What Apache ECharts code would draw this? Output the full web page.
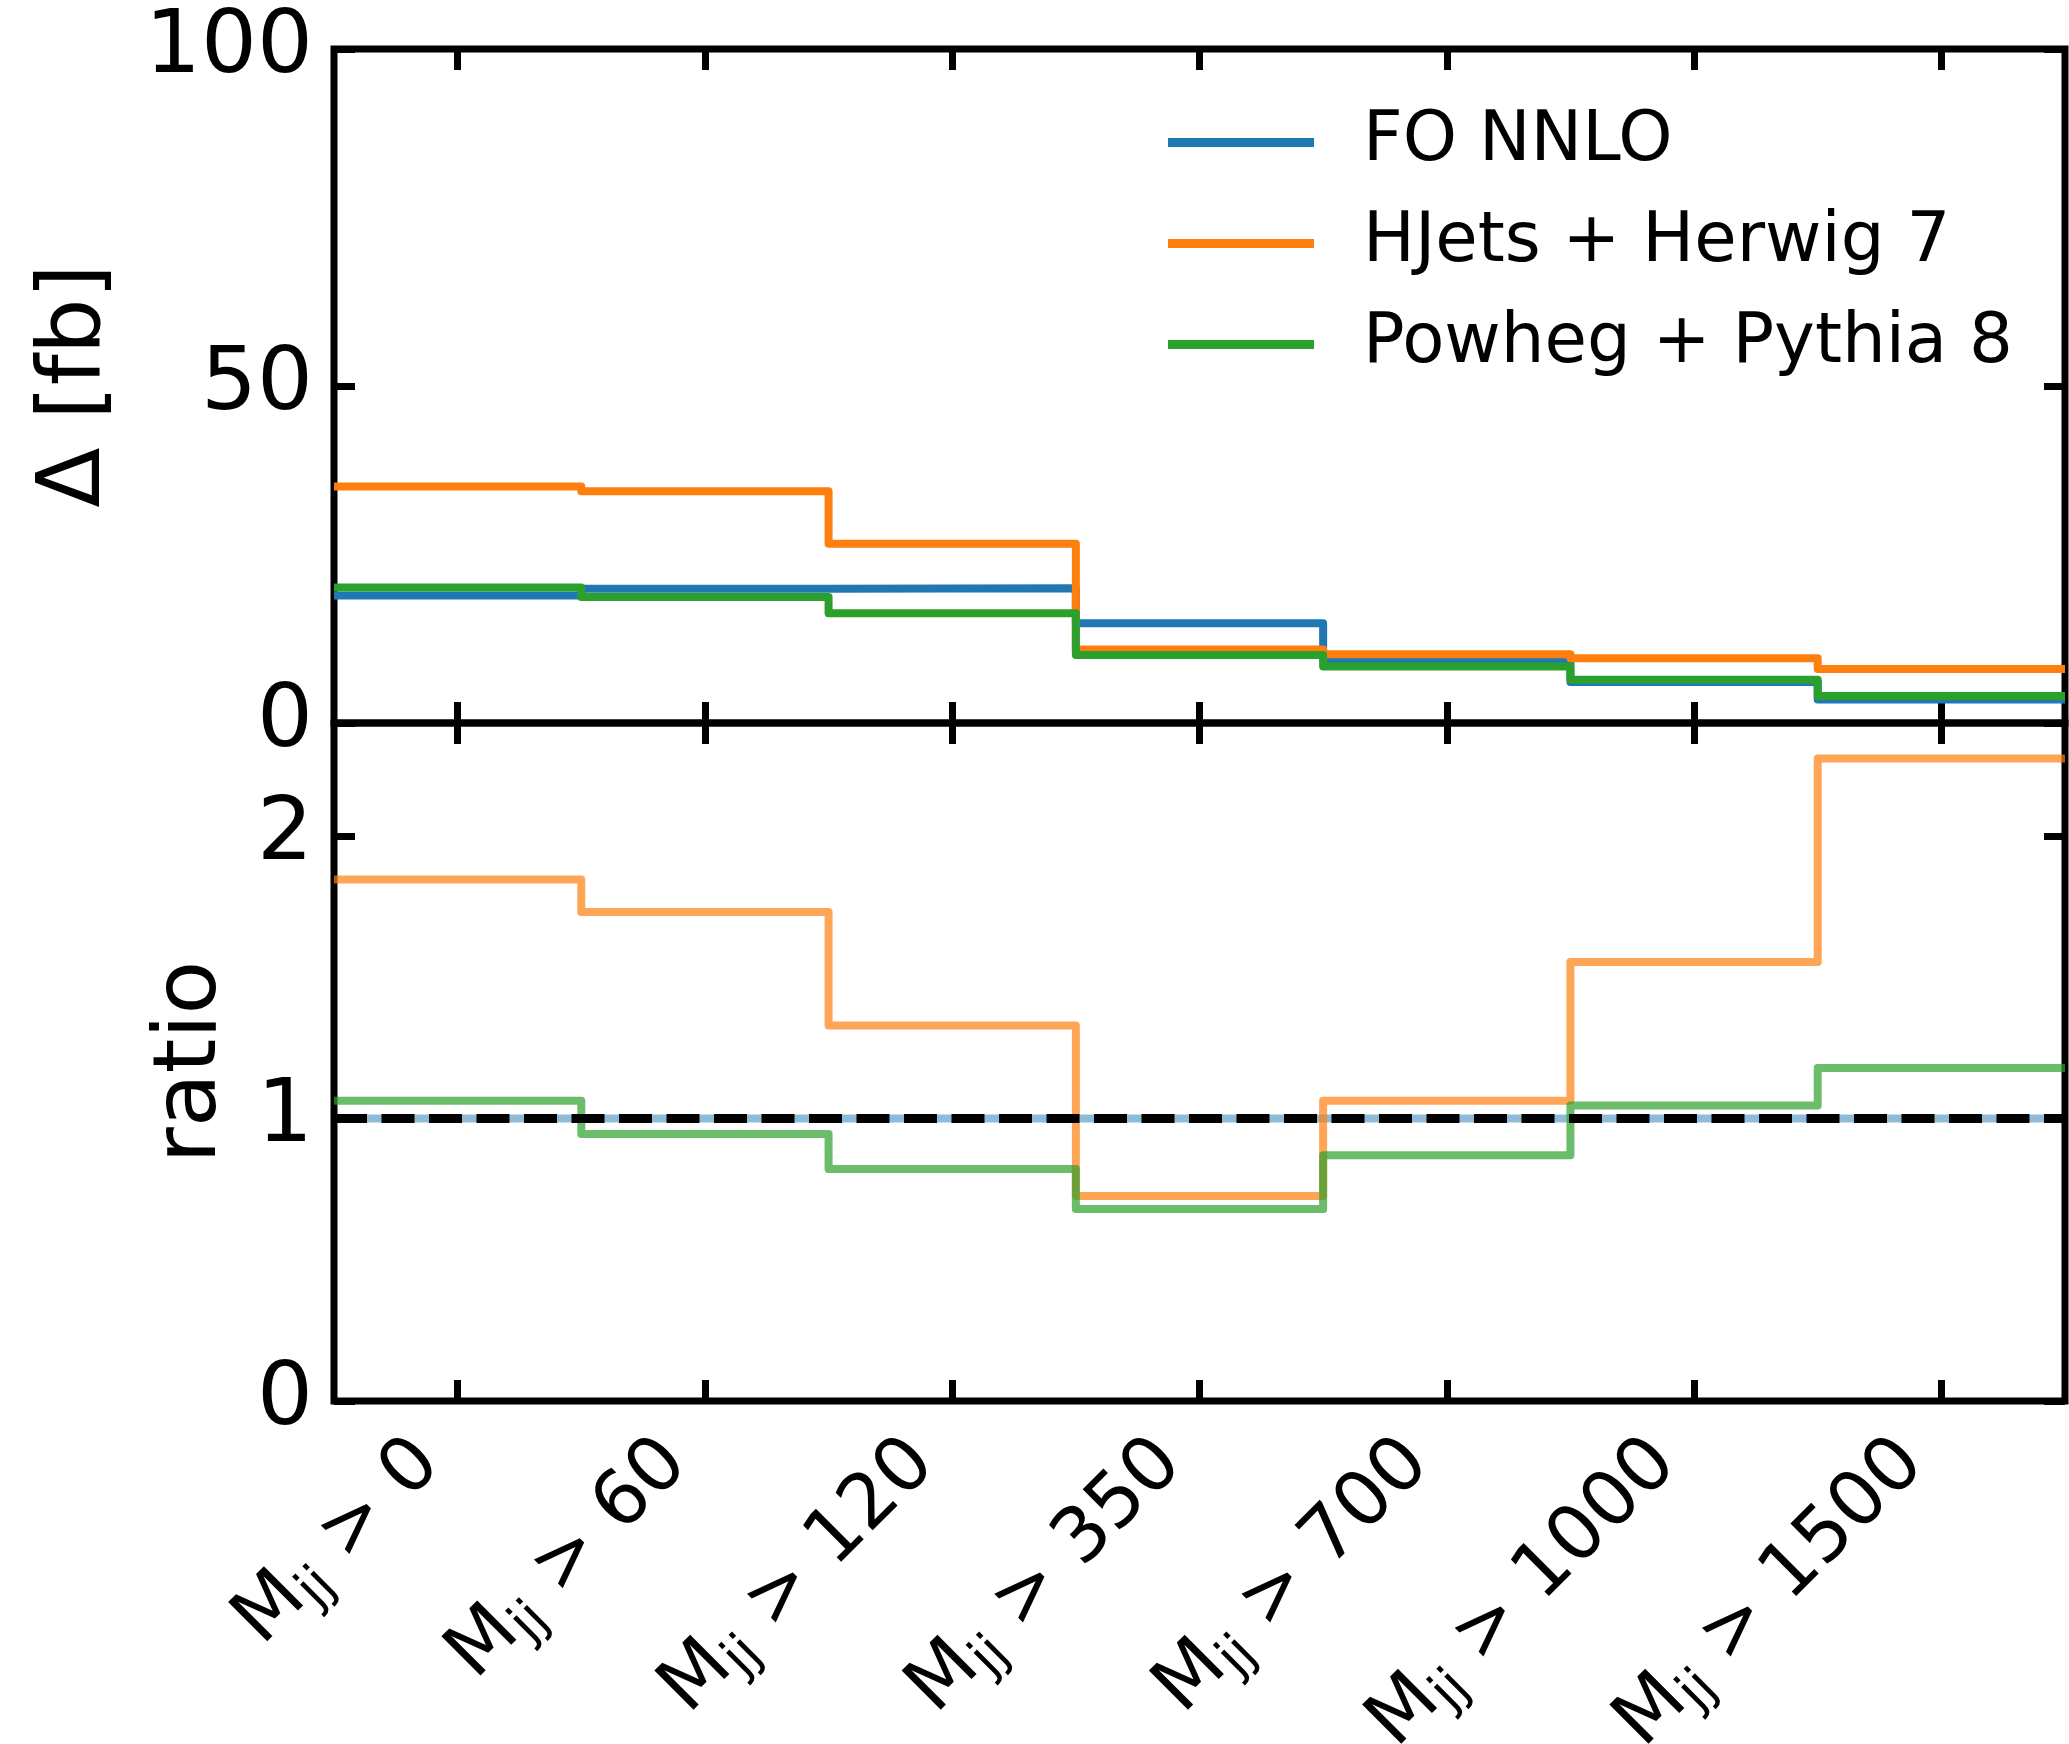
<!DOCTYPE html>
<html><head><meta charset="utf-8">
<script src="https://cdn.jsdelivr.net/npm/echarts@6/dist/echarts.min.js"></script>
<style>html,body{margin:0;padding:0;background:#fff}#c{width:2069px;height:1744px}</style>
</head><body><div id="c"></div>
<script>
// ---- data ----
const thresholds = ['0', '60', '120', '350', '700', '1000', '1500'];
const seriesNames = ['FO NNLO', 'HJets + Herwig 7', 'Powheg + Pythia 8'];
const deltaFO     = [18.9, 19.9, 20.0, 14.8, 9.5, 6.1, 3.5];
const deltaHJets  = [35.1, 34.4, 26.6, 10.9, 10.2, 9.6, 8.0];
const deltaPowheg = [20.1, 18.7, 16.3, 10.1, 8.4, 6.4, 4.0];
const ratioFO     = [1, 1, 1, 1, 1, 1, 1];
const ratioHJets  = [1.846, 1.731, 1.329, 0.726, 1.063, 1.554, 2.274];
const ratioPowheg = [1.063, 0.945, 0.821, 0.680, 0.870, 1.046, 1.179];
const deltaTicks = [0, 50, 100];
const ratioTicks = [0, 1, 2];
const referenceLevel = 1;

// ---- helpers ----
const FONT = 'DejaVu Sans';
const colors = ['#1f77b4', '#ff7f0e', '#2ca02c'];
const nBins = thresholds.length;
const binCenters = thresholds.map((_, i) => i + 0.5);
const stepData = vals => vals.map((v, i) => [i, v]).concat([[vals.length, vals[vals.length - 1]]]);
const TICK = { show: true, inside: true, length: 21, lineStyle: { color: '#000', width: 7 } };
const NOLINE = { show: false, onZero: false };

function xAx(gridIndex, position, showLabels) {
  return {
    type: 'value', gridIndex, position, min: 0, max: nBins,
    axisLine: NOLINE, splitLine: { show: false },
    axisTick: Object.assign({}, TICK, { customValues: binCenters }),
    axisLabel: showLabels ? {
      show: true, rotate: 45, margin: 22, padding: [0, 41, 0, 0], customValues: binCenters,
      formatter: v => '{m|M}{s|jj}{m| > ' + thresholds[Math.round(v - 0.5)] + '}',
      rich: {
        m: { fontSize: 76, fontFamily: FONT, color: '#000', lineHeight: 76 },
        s: { fontSize: 53, fontFamily: FONT, color: '#000', lineHeight: 53, padding: [36, 0, 0, 0] }
      }
    } : { show: false }
  };
}
function yAx(gridIndex, position, max, ticks, showLabels, name, nameGap) {
  const ax = {
    type: 'value', gridIndex, position, min: 0, max,
    axisLine: NOLINE, splitLine: { show: false },
    axisTick: Object.assign({}, TICK, { customValues: ticks }),
    axisLabel: showLabels ? { show: true, fontSize: 88, fontFamily: FONT, color: '#000', margin: 21, customValues: ticks } : { show: false }
  };
  if (name) {
    ax.name = name; ax.nameLocation = 'middle'; ax.nameGap = nameGap;
    ax.nameTextStyle = { fontSize: 88, fontFamily: FONT, color: '#000' };
  }
  return ax;
}
function stepSeries(name, vals, color, opacity, axisIdx, z) {
  return {
    type: 'line', name, data: stepData(vals), xAxisIndex: axisIdx, yAxisIndex: axisIdx,
    step: 'end', symbol: 'none', showSymbol: false, silent: true, z,
    lineStyle: { color, width: 8, opacity, join: 'round' }, itemStyle: { color }
  };
}

const option = {
  animation: false,
  backgroundColor: '#fff',
  textStyle: { fontFamily: FONT },
  grid: [
    { left: 334, right: 4, top: 49, height: 674, show: true, borderColor: '#000', borderWidth: 7, backgroundColor: 'transparent', outerBoundsMode: 'none' },
    { left: 334, right: 4, top: 723, height: 678, show: true, borderColor: '#000', borderWidth: 7, backgroundColor: 'transparent', outerBoundsMode: 'none' }
  ],
  xAxis: [xAx(0, 'bottom', false), xAx(0, 'top', false), xAx(1, 'bottom', true), xAx(1, 'top', false)],
  yAxis: [
    yAx(0, 'left', 100, deltaTicks, true, 'Δ [fb]', 214),
    yAx(0, 'right', 100, deltaTicks, false),
    yAx(1, 'left', 2.4, ratioTicks, true, 'ratio', 98),
    yAx(1, 'right', 2.4, ratioTicks, false)
  ],
  legend: {
    data: seriesNames, orient: 'vertical', left: 1163, top: 103, padding: 5,
    icon: 'rect', itemWidth: 146, itemHeight: 9, itemGap: 32, selectedMode: false,
    textStyle: { fontSize: 69, fontFamily: FONT, color: '#000', lineHeight: 69, padding: [0, 0, 0, 44] }
  },
  series: [
    stepSeries(seriesNames[0], deltaFO, colors[0], 1, 0, 3),
    stepSeries(seriesNames[1], deltaHJets, colors[1], 1, 0, 4),
    stepSeries(seriesNames[2], deltaPowheg, colors[2], 1, 0, 5),
    stepSeries('ratio ' + seriesNames[0], ratioFO, colors[0], 0.5, 2, 3),
    stepSeries('ratio ' + seriesNames[1], ratioHJets, colors[1], 0.7, 2, 4),
    stepSeries('ratio ' + seriesNames[2], ratioPowheg, colors[2], 0.7, 2, 5),
    {
      type: 'line', name: 'reference', xAxisIndex: 2, yAxisIndex: 2, silent: true, z: 6,
      symbol: 'none', showSymbol: false,
      data: [[0, referenceLevel], [nBins, referenceLevel]],
      lineStyle: { color: '#000', width: 9, type: [33, 14.5] }
    }
  ]
};
echarts.init(document.getElementById('c'), null, { renderer: 'canvas' }).setOption(option);
</script>
</body></html>
